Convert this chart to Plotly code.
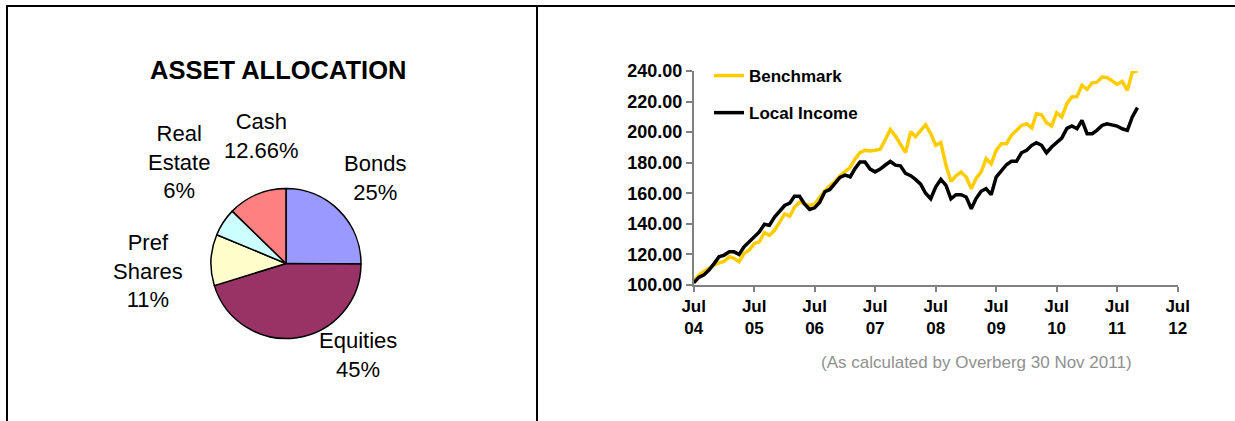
import pandas as pd
import plotly.graph_objects as go

# ---------------- data ----------------
pie_labels = ["Bonds", "Equities", "Pref Shares", "Real Estate", "Cash"]
pie_values = [25, 45, 11, 6, 12.66]
pie_text = ["Bonds<br>25%", "Equities<br>45%", "Pref<br>Shares<br>11%", "Real<br>Estate<br>6%", "Cash<br>12.66%"]
pie_colors = ["#9999FF", "#993366", "#FFFFCC", "#CCFFFF", "#FF8080"]

months = pd.date_range("2004-07-01", periods=89, freq="MS")

benchmark = [
    102.5, 106.5, 108.8, 111.0, 113.0, 114.5, 115.5, 118.5, 117.4, 115.2,
    120.6, 122.8, 127.1, 128.2, 134.3, 132.5, 135.8, 141.0, 146.5, 145.0,
    150.9, 154.2, 153.0, 152.0, 153.0, 157.8, 161.7, 165.0, 167.6, 171.5,
    174.0, 176.9, 182.3, 186.6, 188.1, 187.7, 188.1, 188.8, 195.2, 201.7,
    197.4, 192.0, 186.6, 200.2, 197.0, 201.0, 204.8, 199.0, 191.4, 193.1,
    178.3, 167.8, 171.5, 173.9, 170.6, 163.0, 169.5, 173.9, 182.6, 179.3,
    188.1, 192.4, 192.4, 197.9, 201.2, 204.4, 205.5, 202.7, 212.0, 211.3,
    206.2, 204.0, 212.7, 209.9, 218.6, 223.0, 223.3, 230.6, 228.0, 232.3,
    232.7, 236.0, 235.7, 233.2, 231.3, 233.2, 227.3, 239.3, 240.0,
]

local_income = [
    101.5, 105.0, 106.6, 109.8, 114.0, 118.5, 119.6, 121.7, 121.7, 120.0,
    125.0, 128.2, 131.0, 134.7, 139.7, 139.0, 144.4, 148.5, 152.0, 153.5,
    158.0, 158.0, 153.0, 149.4, 150.5, 154.2, 161.0, 162.5, 166.5, 170.4,
    171.9, 170.8, 176.0, 180.5, 180.5, 175.8, 174.0, 175.8, 178.5, 180.8,
    178.4, 178.0, 173.0, 171.5, 169.1, 166.0, 160.0, 156.4, 164.1, 169.1,
    165.2, 156.4, 159.1, 159.1, 157.6, 149.9, 156.4, 161.3, 163.0, 159.1,
    170.6, 175.0, 178.7, 180.9, 180.9, 186.5, 188.1, 191.4, 193.1, 191.4,
    186.5, 190.3, 193.5, 196.1, 202.5, 204.0, 202.2, 207.7, 199.0, 199.0,
    201.2, 204.4, 205.5, 204.8, 204.0, 202.2, 201.2, 209.9, 216.0,
]

y_ticks = [100, 120, 140, 160, 180, 200, 220, 240]

# ---------------- layout helpers ----------------
W, H = 1235, 421
FONT = "Liberation Sans, Arial, sans-serif"


def px(x):
    return x / W


def py(y):
    return 1 - y / H


fig = go.Figure()

# pie
cx, cy, r = 286, 263.5, 75
fig.add_trace(go.Pie(
    labels=pie_labels, values=pie_values,
    marker=dict(colors=pie_colors, line=dict(color="black", width=1.5)),
    sort=False, direction="clockwise", rotation=0,
    textinfo="none", showlegend=False, hoverinfo="label+percent",
    domain=dict(x=[px(cx - r), px(cx + r)], y=[py(cy + r), py(cy - r)]),
))

# lines
fig.add_trace(go.Scatter(
    x=months, y=benchmark, mode="lines", name="Benchmark",
    line=dict(color="#FFCC00", width=3.5), legendgroup="a",
))
fig.add_trace(go.Scatter(
    x=months, y=local_income, mode="lines", name="Local Income",
    line=dict(color="black", width=3.5), legendgroup="b",
))

# pie labels
label_pos = [(375, 178), (358, 355), (148, 271), (179, 162), (261, 136)]
annotations = []
for t, (lx, ly) in zip(pie_text, label_pos):
    annotations.append(dict(
        x=px(lx), y=py(ly), xref="paper", yref="paper", text=t,
        showarrow=False, xanchor="center", yanchor="middle",
        font=dict(family=FONT, size=22, color="black"),
    ))
annotations.append(dict(
    x=px(278), y=py(70), xref="paper", yref="paper", text="<b>ASSET ALLOCATION</b>",
    showarrow=False, xanchor="center", yanchor="middle",
    font=dict(family=FONT, size=25.5, color="black"),
))
annotations.append(dict(
    x=px(976), y=py(362), xref="paper", yref="paper",
    text="(As calculated by Overberg 30 Nov 2011)",
    showarrow=False, xanchor="center", yanchor="middle",
    font=dict(family=FONT, size=17, color="#909090"),
))

# frame lines
shapes = [
    dict(type="line", xref="paper", yref="paper", x0=px(6), x1=1, y0=py(6), y1=py(6),
         line=dict(color="black", width=2)),
    dict(type="line", xref="paper", yref="paper", x0=px(7), x1=px(7), y0=py(6), y1=0,
         line=dict(color="black", width=2)),
    dict(type="line", xref="paper", yref="paper", x0=px(537), x1=px(537), y0=py(6), y1=0,
         line=dict(color="black", width=2)),
]

fig.update_layout(
    width=W, height=H,
    margin=dict(l=0, r=0, t=0, b=0),
    paper_bgcolor="white", plot_bgcolor="white",
    font=dict(family=FONT, color="black"),
    annotations=annotations, shapes=shapes,
    legend=dict(
        x=px(709), y=py(58), xanchor="left", yanchor="top",
        font=dict(family=FONT, size=17, weight="bold", color="black"),
        bgcolor="rgba(0,0,0,0)", tracegroupgap=12, traceorder="grouped",
    ),
    xaxis=dict(
        domain=[px(693.7), px(1177.7)],
        type="date", range=["2004-07-01", "2012-07-01"],
        tick0="2004-07-01", dtick="M12", tickformat="%b<br>%y",
        showgrid=False, zeroline=False,
        showline=True, linecolor="#808080", linewidth=1.5,
        ticks="outside", ticklen=5, tickcolor="#808080", tickwidth=1.5,
        tickfont=dict(family=FONT, size=17, weight="bold", color="black"),
        fixedrange=True, automargin=False,
    ),
    yaxis=dict(
        domain=[py(285), py(71)],
        range=[100, 240], tickvals=y_ticks, tickformat=".2f",
        showgrid=False, zeroline=False,
        showline=True, linecolor="#808080", linewidth=1.5,
        ticks="outside", ticklen=6, tickcolor="#808080", tickwidth=1.5,
        tickfont=dict(family=FONT, size=18, weight="bold", color="black"),
        fixedrange=True, automargin=False,
    ),
)

fig.write_html(
    "out.html",
    config={"displayModeBar": False},
    post_script="document.body.style.margin='0';document.body.style.overflow='hidden';",
)
